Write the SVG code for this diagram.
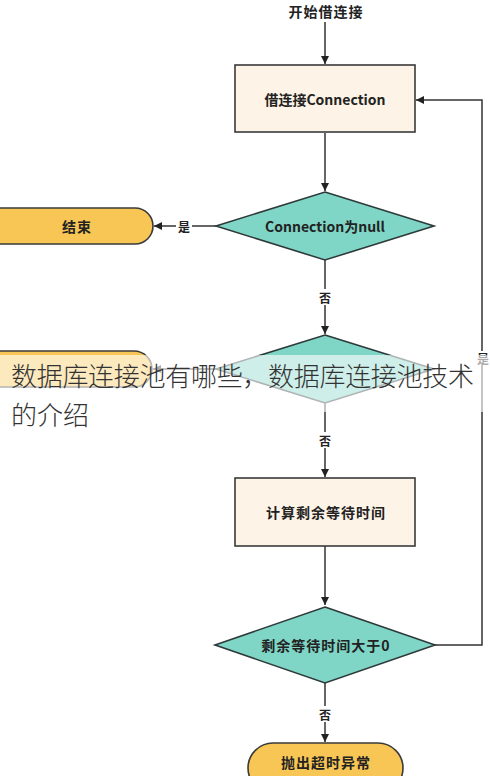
<svg xmlns="http://www.w3.org/2000/svg" width="490" height="776" viewBox="0 0 490 776">
<defs>
<marker id="arr" markerWidth="10" markerHeight="10" refX="9" refY="5" orient="auto" markerUnits="userSpaceOnUse">
<path d="M1,1 L9,5 L1,9 Z" fill="#222"/>
</marker>
<style>
.t{font-family:"Noto Sans CJK SC","Noto Sans",sans-serif;font-size:14px;font-weight:bold;fill:#222;text-anchor:middle;dominant-baseline:central}
.cj{letter-spacing:1px}
.lbl{font-family:"Noto Sans CJK SC","Noto Sans",sans-serif;font-size:12px;font-weight:bold;fill:#222;text-anchor:middle;dominant-baseline:central}
.box{fill:#fdf3e6;stroke:#3a3a3a;stroke-width:1.6}
.dia{fill:#7fd6c6;stroke:#2e3a3a;stroke-width:1.6}
.term{fill:#f8c655;stroke:#3a3a3a;stroke-width:1.6}
.ln{fill:none;stroke:#333;stroke-width:1.5}
.wm{font-family:"Noto Sans CJK SC",sans-serif;font-size:26px;font-weight:300;fill:#333}
</style>
</defs>
<rect width="490" height="776" fill="#fff"/>
<g id="connectors">
<path class="ln" d="M325,22 V64" marker-end="url(#arr)"/>
<path class="ln" d="M325,133 V191" marker-end="url(#arr)"/>
<path class="ln" d="M216,226 H154" marker-end="url(#arr)"/>
<path class="ln" d="M325,260 V334" marker-end="url(#arr)"/>
<path class="ln" d="M216,369 H153" marker-end="url(#arr)"/>
<path class="ln" d="M325,403 V477" marker-end="url(#arr)"/>
<path class="ln" d="M325,546 V605" marker-end="url(#arr)"/>
<path class="ln" d="M435,645 H482 V100 H416" marker-end="url(#arr)"/>
<path class="ln" d="M325,683 V742" marker-end="url(#arr)"/>
<rect x="176" y="218" width="16" height="16" fill="#fff"/>
<text class="lbl" x="184" y="226">是</text>
<rect x="317" y="289" width="16" height="16" fill="#fff"/>
<text class="lbl" x="325" y="297">否</text>
<rect x="317" y="432" width="16" height="16" fill="#fff"/>
<text class="lbl" x="325" y="440">否</text>
<rect x="477" y="351" width="12" height="14" fill="#fff"/>
<text class="lbl" x="483" y="358" font-size="10">是</text>
<rect x="317" y="706" width="16" height="16" fill="#fff"/>
<text class="lbl" x="325" y="714">否</text>
</g>
<g id="start"><text class="t cj" x="326" y="11">开始借连接</text></g>
<g id="borrow"><rect class="box" x="235" y="65" width="180" height="67"/><text class="t" x="325" y="99" font-size="13">借连接Connection</text></g>
<g id="isnull"><polygon class="dia" points="325,192 434,226 325,260 216,226"/><text class="t" x="325" y="226" font-size="13">Connection为null</text></g>
<g id="end"><rect class="term" x="-20" y="208" width="173" height="36" rx="18"/><text class="t cj" x="77" y="226">结束</text></g>
<g id="check"><polygon class="dia" points="325,335 434,369 325,403 216,369"/></g>
<g id="ret"><rect class="term" x="-20" y="351" width="172" height="36" rx="18"/></g>
<g id="calc"><rect class="box" x="235" y="478" width="180" height="68"/><text class="t cj" x="326" y="512">计算剩余等待时间</text></g>
<g id="remain"><polygon class="dia" points="325,607 435,645 325,683 215,645"/><text class="t cj" x="326" y="645">剩余等待时间大于0</text></g>
<g id="timeout"><rect class="term" x="248" y="743" width="155" height="50" rx="25"/><text class="t cj" x="326" y="762">抛出超时异常</text></g>
<rect x="0" y="355" width="490" height="57" fill="#fff" opacity="0.62"/>
<g id="watermark">
<text class="wm" x="11" y="386" textLength="463" lengthAdjust="spacing">数据库连接池有哪些，数据库连接池技术</text>
<text class="wm" x="11" y="425">的介绍</text>
</g>
</svg>
